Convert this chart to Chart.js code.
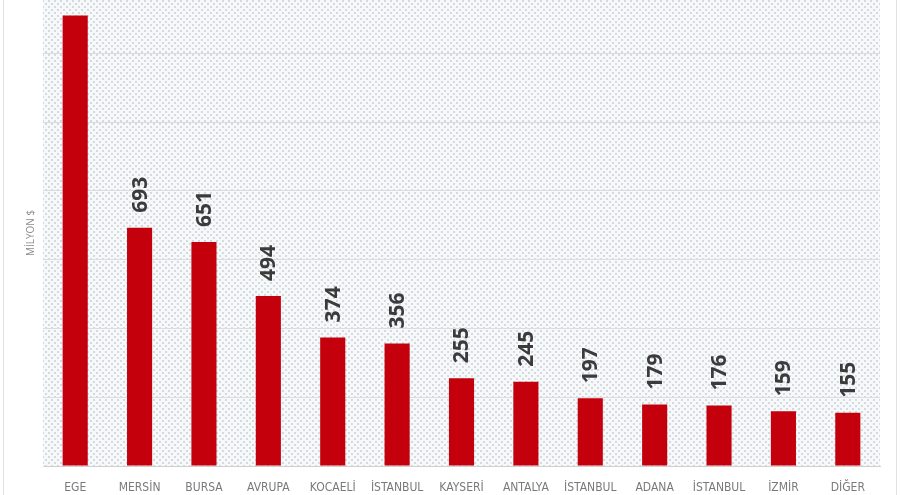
<!DOCTYPE html>
<html>
<head>
<meta charset="utf-8">
<script src="https://cdn.jsdelivr.net/npm/chart.js@4/dist/chart.umd.min.js"></script>
<style>
  html, body { margin: 0; padding: 0; background: #fff; }
  #wrap { position: relative; width: 900px; height: 495px; }
  #wrap:before { content: ''; position: absolute; left: 3px; right: 3px; top: 0; bottom: 0;
    border-left: 1px solid #e2e2e2; border-right: 1px solid #e2e2e2; pointer-events: none; }
</style>
</head>
<body>
<div id="wrap"><canvas id="exportChart" width="900" height="495"></canvas></div>
<script>
// regions / exporters (category labels)
const regions = ['EGE', 'MERSİN', 'BURSA', 'AVRUPA', 'KOCAELİ', 'İSTANBUL', 'KAYSERİ',
                 'ANTALYA', 'İSTANBUL', 'ADANA', 'İSTANBUL', 'İZMİR', 'DİĞER'];
// million $  (first bar has no label in the picture, value estimated from its height)
const values = [1310, 693, 651, 494, 374, 356, 255, 245, 197, 179, 176, 159, 155];
const axisTitle = 'MİLYON $';

// dotted halftone background for the plot area
function dotPattern(ctx) {
    const tile = document.createElement('canvas');
    tile.width = 6; tile.height = 6;
    const t = tile.getContext('2d');
    t.fillStyle = '#c2cdd2';
    t.beginPath(); t.arc(1, 1, 0.9, 0, Math.PI * 2); t.fill();
    t.beginPath(); t.arc(4, 4, 0.9, 0, Math.PI * 2); t.fill();
    return ctx.createPattern(tile, 'repeat');
}

const plotBackground = {
    id: 'plotBackground',
    beforeDraw(chart) {
        const { ctx, chartArea: a } = chart;
        ctx.save();
        ctx.fillStyle = '#f6f8f9';
        ctx.fillRect(a.left, a.top, a.right - a.left, a.bottom - a.top);
        ctx.fillStyle = dotPattern(ctx);
        ctx.fillRect(a.left, a.top, a.right - a.left, a.bottom - a.top);
        ctx.restore();
    }
};

// vertical value labels above each bar (skipped when they would run off the top)
const valueLabels = {
    id: 'valueLabels',
    afterDatasetsDraw(chart) {
        const { ctx, chartArea } = chart;
        const meta = chart.getDatasetMeta(0);
        ctx.save();
        ctx.font = 'bold 21px "Open Sans", sans-serif';
        ctx.fillStyle = '#3b3b3b';
        ctx.textAlign = 'left';
        ctx.textBaseline = 'middle';
        meta.data.forEach((bar, i) => {
            const txt = String(chart.data.datasets[0].data[i]);
            const w = ctx.measureText(txt).width;
            const start = bar.y - 15;
            if (start - w < chartArea.top) return;
            ctx.save();
            ctx.translate(bar.x + 1, start);
            ctx.rotate(-Math.PI / 2);
            ctx.fillText(txt, 0, 0);
            ctx.restore();
        });
        ctx.restore();
    }
};

const ctx = document.getElementById('exportChart').getContext('2d');
const exportChart = new Chart(ctx, {
    type: 'bar',
    data: {
        labels: regions,
        datasets: [{
            data: values,
            backgroundColor: '#c4000d',
            borderWidth: 0,
            barPercentage: 0.39,
            categoryPercentage: 1
        }]
    },
    options: {
        responsive: false,
        animation: false,
        layout: { padding: { left: 25, right: 20, top: 0, bottom: 1 } },
        plugins: {
            legend: { display: false },
            tooltip: { enabled: false }
        },
        scales: {
            x: {
                grid: { display: false },
                border: { display: true, color: '#d0d0d0', width: 1 },
                afterFit(scale) { scale.height = 28; },
                ticks: {
                    padding: 7,
                    color: '#7a7a7a',
                    font: { family: '"Liberation Sans Narrow", "DejaVu Sans Condensed", "Roboto", sans-serif', size: 12 },
                    maxRotation: 0,
                    autoSkip: false
                }
            },
            y: {
                min: 0,
                max: 1355,
                afterBuildTicks(scale) {
                    scale.ticks = scale.ticks.filter(t => t.value % 200 === 0);
                },
                ticks: { display: false, stepSize: 200 },
                grid: { color: '#dcdcdc', lineWidth: 1, drawTicks: false },
                border: { display: false },
                title: {
                    display: true,
                    text: axisTitle,
                    color: '#8a8a8a',
                    font: { family: '"Open Sans", sans-serif', size: 10 },
                    padding: { top: 0, bottom: 6 }
                }
            }
        }
    },
    plugins: [plotBackground, valueLabels]
});
</script>
</body>
</html>
